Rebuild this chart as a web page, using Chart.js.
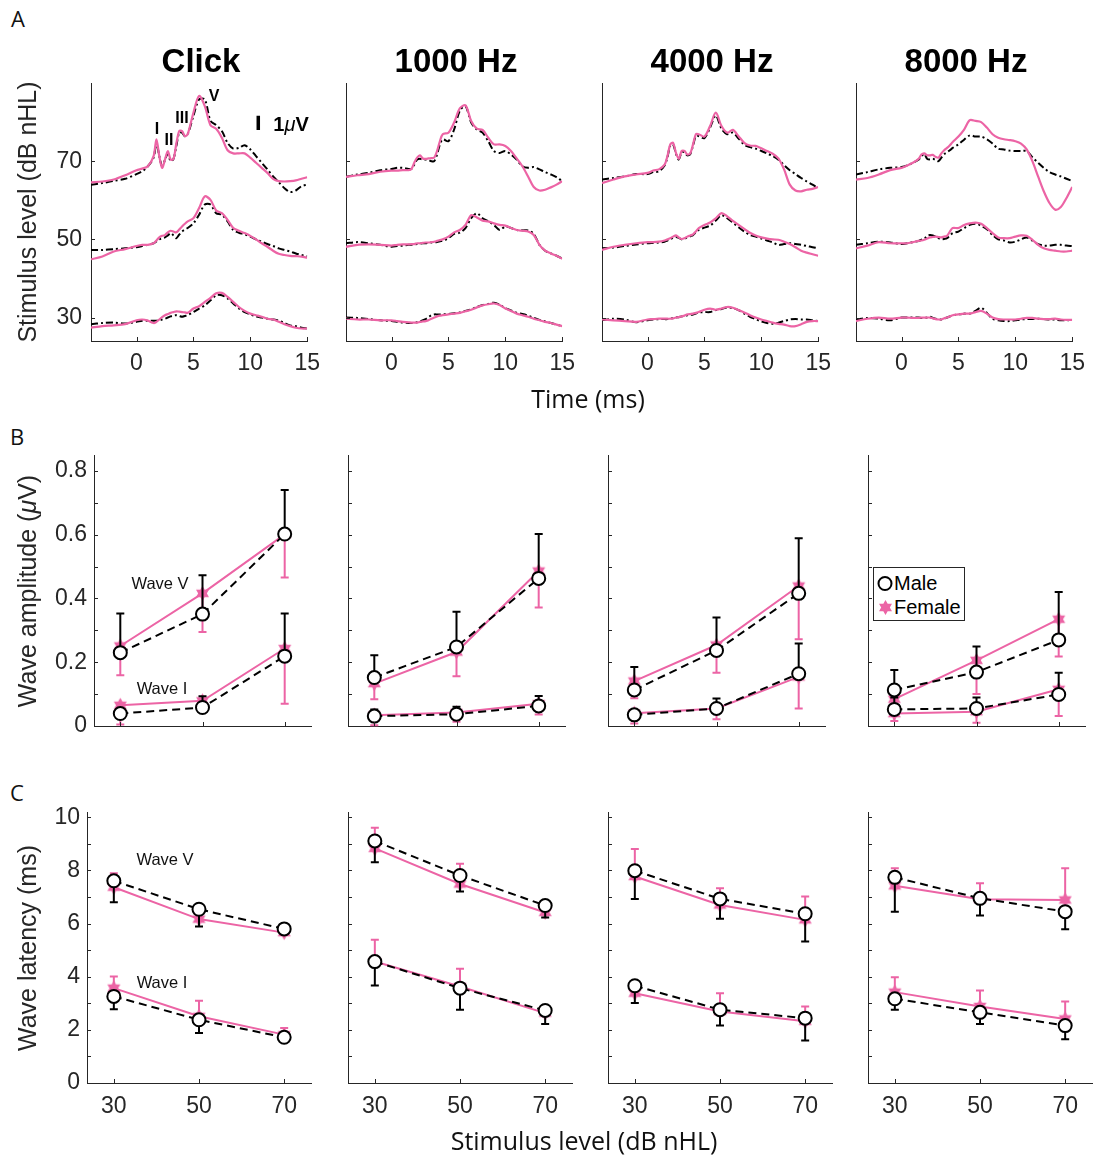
<!DOCTYPE html>
<html>
<head>
<meta charset="utf-8">
<script src="https://cdn.jsdelivr.net/npm/chart.js@4.4.1/dist/chart.umd.min.js"></script>
<style>
  html, body { margin: 0; padding: 0; background: #fff; }
  #fig { position: relative; width: 1100px; height: 1158px; overflow: hidden;
         font-family: 'Liberation Sans', Arial, Helvetica, sans-serif; color: #262626; }
  #fig canvas { position: absolute; }
  .txt { position: absolute; white-space: nowrap; line-height: 1; transform: translate(-50%, -50%); }
  .rot { transform: translate(-50%, -50%) rotate(-90deg); }
  .sans2 { font-family: 'Open Sans', sans-serif; color: #111; }
  .legend { position: absolute; border: 1px solid #262626; background: #fff; }
</style>
</head>
<body>
<div id="fig"></div>
<script>
  // ---- Row A: averaged waveforms, time grid (ms) and traces (plotted in stimulus-level units)
  const T = [-4, -3, -2, -1, 0, 0.5, 1, 1.5, 1.75, 2, 2.25, 2.5, 2.75, 3, 3.25, 3.5, 3.75, 4, 4.25, 4.5,
    5, 5.5, 6, 6.5, 7, 7.5, 8, 8.5, 9, 9.5, 10, 10.5, 11, 11.5, 12, 12.5, 13, 13.5, 14, 14.5, 15];

  const click70F = [64.6,64.8,65.3,66.4,67.7,68.1,68.7,71.3,75.6,71.3,68.3,70.4,72.6,70.4,70.6,74.5,77.7,77.7,76.4,76.9,82.4,86.7,84.1,79.2,78.3,76.0,72.8,72.0,72.0,72.0,70.9,69.6,68.3,67.0,65.5,64.9,64.8,64.9,65.1,65.5,65.9];
  const click70M = [64.0,64.4,65.0,65.5,66.7,67.4,68.7,70.9,74.7,71.3,68.7,70.3,72.0,70.0,70.6,73.9,77.3,77.3,76.4,76.9,81.6,85.8,85.8,80.3,79.2,77.7,74.7,73.2,73.4,74.1,73.0,71.3,69.6,67.9,66.1,64.6,63.1,62.1,62.5,63.6,64.0];
  const click50F = [44.9,45.6,46.9,47.5,48.3,48.6,48.6,49.0,49.7,50.5,50.9,51.1,51.8,52.2,52.0,51.8,52.5,53.3,54.0,54.6,55.4,58.0,61.0,60.1,57.4,56.7,55.0,52.9,52.2,51.6,50.9,50.0,49.0,48.1,47.1,46.3,46.0,45.8,45.7,45.6,45.3];
  const click50M = [47.3,47.3,47.5,47.7,48.0,48.3,48.6,49.0,49.5,50.0,50.3,50.5,51.0,51.6,51.0,50.3,51.2,52.0,52.5,52.9,54.1,56.3,58.9,58.9,56.7,56.3,54.6,52.4,51.7,51.3,50.7,50.0,49.4,48.8,48.3,47.7,47.3,46.9,46.4,46.0,45.7];
  const click30F = [27.4,27.8,28.0,28.3,29.3,29.5,29.2,28.6,28.9,29.5,30.1,30.6,30.9,31.2,31.4,31.6,31.5,31.4,31.3,31.2,32.3,32.9,34.0,35.0,36.2,36.3,35.3,34.0,32.7,31.7,31.0,30.6,30.2,29.7,29.5,28.9,28.3,27.8,27.4,27.2,27.2];
  const click30M = [28.3,28.6,28.7,28.5,28.9,29.2,29.2,29.2,29.2,29.3,29.5,29.7,30.0,30.3,30.5,30.6,30.4,30.2,30.4,30.6,31.4,32.3,33.1,34.4,35.7,35.7,34.9,33.6,32.3,31.4,30.8,30.3,30.0,29.7,29.5,29.2,28.6,28.0,27.8,27.4,27.2];

  const k1_70F = [66.0,66.4,66.7,67.3,67.6,67.6,67.7,67.7,68.0,69.6,70.9,71.5,70.7,70.6,70.7,70.8,70.9,72.6,75.1,76.9,77.3,79.9,83.5,84.3,80.3,78.3,78.0,76.0,74.3,74.3,73.9,72.6,70.7,68.7,66.1,63.4,62.5,62.7,63.3,64.0,64.9];
  const k1_70M = [66.0,66.6,67.0,67.7,68.0,68.3,68.3,68.0,68.0,69.1,70.4,70.6,70.4,70.4,70.3,70.0,70.0,71.7,74.3,75.6,75.1,78.1,82.9,84.1,79.9,78.1,77.3,75.1,72.6,72.1,72.6,71.7,70.4,68.7,68.3,68.5,67.9,67.2,66.6,65.9,64.9];
  const k1_50F = [48.1,48.6,48.7,48.6,48.4,48.6,48.7,48.7,48.8,48.8,49.0,49.0,49.1,49.2,49.2,49.3,49.4,49.6,49.8,50.0,50.7,51.8,52.4,53.7,56.2,55.6,54.8,54.6,54.1,53.7,53.5,52.9,52.4,52.2,52.0,51.1,48.6,47.1,46.4,45.8,45.0];
  const k1_50M = [49.0,49.3,49.0,48.6,48.1,48.3,48.4,48.6,48.6,48.7,48.8,48.9,49.0,49.0,49.1,49.2,49.2,49.3,49.5,49.7,50.3,51.4,51.7,52.9,55.4,56.7,55.4,54.6,53.7,52.4,53.3,52.9,52.4,52.3,52.3,51.4,48.6,47.1,46.4,45.8,45.1];
  const k1_30F = [29.7,29.5,29.5,29.3,29.3,29.1,28.9,28.8,28.7,28.7,28.7,28.9,29.0,29.1,29.3,29.7,30.0,30.3,30.5,30.6,30.8,31.0,31.2,31.6,32.0,32.6,33.1,33.4,33.6,33.2,32.3,31.7,31.0,30.6,30.2,29.7,29.3,28.9,28.6,28.2,27.8];
  const k1_30M = [30.0,29.9,29.6,29.3,29.1,28.9,28.7,28.6,28.6,28.7,28.8,29.0,29.3,29.6,30.1,30.6,30.8,30.8,30.8,30.8,30.9,31.1,31.3,31.7,32.1,32.7,33.2,33.5,33.8,33.3,32.4,31.8,31.2,30.9,30.5,29.9,29.4,29.0,28.6,28.2,27.8];

  const k4_70F = [64.4,65.3,66.1,66.6,67.0,67.6,67.9,69.1,71.3,74.3,74.7,72.1,70.6,72.6,72.6,71.7,72.0,74.3,76.9,76.9,76.3,79.0,82.4,79.0,77.3,78.0,76.4,74.7,74.0,73.9,73.3,72.6,71.9,70.7,67.9,64.0,62.5,62.3,62.7,62.9,63.4];
  const k4_70M = [65.3,65.7,66.1,66.7,66.7,67.2,67.4,68.9,71.0,74.0,74.3,71.9,70.4,72.3,72.3,71.5,71.8,74.0,76.4,76.4,75.9,78.6,81.7,78.3,76.9,77.3,75.8,74.2,73.6,73.2,72.6,72.0,71.3,70.4,69.0,67.7,66.7,65.7,64.8,64.0,63.1];
  const k4_50F = [47.3,48.1,48.6,49.0,49.3,49.3,49.4,49.7,50.0,50.3,50.7,51.0,50.5,50.1,50.3,50.7,51.0,51.3,52.0,52.9,53.7,54.3,55.4,56.7,55.9,54.7,53.7,52.7,51.7,51.0,50.5,50.2,50.0,49.9,49.4,48.8,48.0,47.1,46.6,46.2,45.8];
  const k4_50M = [47.7,47.9,48.3,48.7,49.0,49.1,49.2,49.4,49.7,50.0,50.4,50.6,50.4,50.0,50.2,50.5,50.8,51.1,51.8,52.4,53.0,53.5,54.8,56.2,55.4,54.3,53.1,52.0,51.1,50.7,50.2,49.7,49.2,48.6,48.8,49.0,48.8,48.6,48.3,48.0,47.7];
  const k4_30F = [29.5,29.3,29.1,28.9,29.5,29.6,29.7,29.7,29.7,29.7,29.8,30.0,30.1,30.3,30.5,30.8,30.9,31.0,31.2,31.4,32.0,32.3,32.0,32.3,32.7,32.5,31.9,31.3,30.6,30.0,29.5,29.1,28.7,28.4,28.2,27.8,27.8,28.3,28.9,29.1,29.1];
  const k4_30M = [29.3,29.7,29.5,28.8,29.3,29.5,29.6,29.6,29.6,29.8,29.8,30.0,30.1,30.3,30.4,30.6,30.7,30.8,31.0,31.3,31.4,31.4,31.9,32.2,32.6,32.4,31.9,31.0,30.2,29.6,29.0,28.6,28.4,28.7,29.1,29.5,29.6,29.5,29.5,29.3,29.1];

  const k8_70F = [65.3,65.7,66.6,67.7,68.3,68.9,69.6,70.6,71.7,72.0,71.5,71.5,71.6,71.1,70.9,72.0,72.8,73.4,74.1,74.9,76.3,78.1,80.5,80.3,80.0,78.6,76.9,76.0,75.6,75.4,75.1,74.5,73.0,70.0,66.1,62.3,59.3,57.6,58.3,60.6,63.4];
  const k8_70M = [66.6,67.2,67.9,68.3,68.5,68.9,69.6,70.4,71.3,71.9,70.6,70.4,70.6,70.3,70.0,70.9,71.8,72.3,72.8,73.4,74.3,75.5,76.6,76.3,76.3,75.6,74.5,73.2,73.0,72.7,72.6,72.6,72.6,71.0,69.6,68.3,67.2,66.6,66.1,65.5,64.9];
  const k8_50F = [47.7,48.4,49.3,49.0,49.0,49.0,49.3,49.6,49.7,49.9,50.2,50.5,50.6,50.7,50.6,50.5,50.7,50.9,52.0,52.9,52.9,53.7,54.1,54.3,54.0,52.9,51.6,50.5,50.3,50.3,50.7,51.0,50.9,49.9,48.6,47.7,47.3,47.1,46.9,46.9,47.1];
  const k8_50M = [48.6,49.0,49.4,49.2,48.8,49.0,49.3,49.6,49.9,50.1,50.9,51.1,51.0,50.7,50.3,50.0,50.1,50.3,51.0,51.6,52.0,52.9,53.7,54.0,53.5,52.6,51.1,50.0,49.7,49.2,49.4,50.0,50.5,49.7,48.8,48.4,48.4,48.6,48.6,48.4,48.3];
  const k8_30F = [29.1,29.7,30.0,29.7,30.0,30.0,29.9,29.9,30.0,30.0,30.0,30.0,29.8,29.6,29.5,29.5,29.8,30.0,30.3,30.6,30.8,31.0,31.0,31.4,31.7,31.0,30.0,29.6,29.5,29.5,29.5,29.7,29.9,29.9,29.7,29.6,29.6,29.7,29.5,29.4,29.4];
  const k8_30M = [29.5,29.9,29.7,29.3,30.0,30.0,30.0,30.0,29.9,29.9,30.0,30.2,29.9,29.7,29.5,29.5,29.8,30.0,30.3,30.6,30.8,31.0,31.0,31.7,32.5,31.2,29.7,29.3,29.1,29.1,29.3,29.5,29.6,29.6,29.7,29.6,29.5,29.5,29.3,29.3,29.5];

  const stimuli = ['Click', '1000 Hz', '4000 Hz', '8000 Hz'];
  const femaleTraces = [[click30F, click50F, click70F], [k1_30F, k1_50F, k1_70F], [k4_30F, k4_50F, k4_70F], [k8_30F, k8_50F, k8_70F]];
  const maleTraces = [[click30M, click50M, click70M], [k1_30M, k1_50M, k1_70M], [k4_30M, k4_50M, k4_70M], [k8_30M, k8_50M, k8_70M]];
  const timeTicks = [0, 5, 10, 15];
  const levelTicks = [30, 50, 70];
  const scaleBarT = 10.7;          // ms
  const scaleBarY = [78.0, 81.6];  // 1 µV in plot units

  // ---- Rows B and C: one row per stimulus (Click, 1000, 4000, 8000 Hz), values at 30/50/70 dB nHL
  const levels = [30, 50, 70];
  const ampVMale      = [[0.23, 0.351, 0.602], [0.152, 0.248, 0.463], [0.113, 0.237, 0.416], [0.113, 0.169, 0.27]];
  const ampVMaleBar   = [[0.353, 0.473, 0.74], [0.222, 0.358, 0.602], [0.185, 0.34, 0.589], [0.176, 0.249, 0.42]];
  const ampVFemale    = [[0.251, 0.416, 0.601], [0.133, 0.232, 0.486], [0.141, 0.254, 0.439], [0.084, 0.206, 0.335]];
  const ampVFemaleBar = [[0.159, 0.295, 0.466], [0.084, 0.156, 0.372], [0.087, 0.167, 0.272], [0.047, 0.10, 0.218]];
  const ampIMale      = [[0.039, 0.058, 0.219], [0.031, 0.037, 0.063], [0.035, 0.055, 0.164], [0.052, 0.055, 0.099]];
  const ampIMaleBar   = [[0.05, 0.093, 0.353], [0.052, 0.06, 0.094], [0.04, 0.086, 0.259], [0.089, 0.089, 0.167]];
  const ampIFemale    = [[0.065, 0.079, 0.243], [0.034, 0.042, 0.07], [0.04, 0.055, 0.154], [0.039, 0.045, 0.115]];
  const ampIFemaleBar = [[0.005, 0.06, 0.07], [0.002, 0.013, 0.036], [0.008, 0.021, 0.055], [0.016, 0.01, 0.031]];

  const latVMale      = [[7.61, 6.54, 5.8], [9.11, 7.81, 6.68], [7.99, 6.93, 6.37], [7.74, 6.95, 6.45]];
  const latVMaleBar   = [[6.8, 5.89, 5.7], [8.31, 7.21, 6.23], [6.93, 6.18, 5.33], [6.45, 6.3, 5.79]];
  const latVFemale    = [[7.37, 6.17, 5.66], [8.83, 7.49, 6.42], [7.77, 6.7, 6.14], [7.42, 6.92, 6.89]];
  const latVFemaleBar = [[7.89, 6.45, 5.75], [9.61, 8.25, 6.6], [8.81, 7.33, 7.02], [8.08, 7.52, 8.08]];
  const latIMale      = [[3.26, 2.38, 1.72], [4.57, 3.57, 2.73], [3.66, 2.76, 2.44], [3.17, 2.66, 2.16]];
  const latIMaleBar   = [[2.78, 1.88, 1.55], [3.67, 2.76, 2.22], [3.01, 2.16, 1.6], [2.76, 2.22, 1.65]];
  const latIFemale    = [[3.57, 2.51, 1.82], [4.57, 3.63, 2.63], [3.38, 2.69, 2.32], [3.42, 2.88, 2.41]];
  const latIFemaleBar = [[4.01, 3.1, 2.07], [5.39, 4.3, 2.9], [3.5, 3.38, 2.88], [3.98, 3.48, 3.07]];

  const ampTicks = [0, 0.1, 0.2, 0.3, 0.4, 0.5, 0.6, 0.7, 0.8];
  const latTicks = [0, 1, 2, 3, 4, 5, 6, 7, 8, 9, 10];

  // ---- styling / geometry
  const fig = document.getElementById('fig');
  const FONT = "'Liberation Sans', Arial, Helvetica, sans-serif";
  const INK = '#262626';
  const PINK = '#ec64a5';
  const rowA = { top: 83, h: 258, w: 220, lefts: [91, 346, 602, 856] };
  const rowB = { top: 455, h: 271, w: 217, lefts: [94, 348, 608, 868] };
  const rowC = { top: 812, h: 271, w: 224, lefts: [87, 348, 608, 868] };

  function starImage(r, color) {
    const c = document.createElement('canvas');
    const s = Math.ceil(r * 2 + 2);
    c.width = c.height = s;
    const g = c.getContext('2d');
    g.fillStyle = color;
    g.beginPath();
    for (let k = 0; k < 12; k++) {
      const a = -Math.PI / 2 + k * Math.PI / 6;
      const rr = k % 2 ? r / Math.sqrt(3) : r;
      const px = s / 2 + rr * Math.cos(a), py = s / 2 + rr * Math.sin(a);
      k ? g.lineTo(px, py) : g.moveTo(px, py);
    }
    g.closePath();
    g.fill();
    return c;
  }
  const STAR = starImage(7.5, PINK);

  // inward tick marks, like the original axes
  const inTicks = {
    id: 'inTicks',
    afterDraw(chart) {
      const { ctx, chartArea: a, scales: { x, y } } = chart;
      ctx.save();
      ctx.strokeStyle = INK;
      ctx.lineWidth = 1;
      ctx.beginPath();
      x.ticks.forEach(t => {
        const px = Math.round(x.getPixelForValue(t.value)) + 0.5;
        ctx.moveTo(px, a.bottom);
        ctx.lineTo(px, a.bottom - 4);
      });
      y.ticks.forEach(t => {
        const py = Math.round(y.getPixelForValue(t.value)) + 0.5;
        ctx.moveTo(a.left, py);
        ctx.lineTo(a.left + 4, py);
      });
      ctx.stroke();
      ctx.restore();
    }
  };

  // one-sided error bars: from the mean to the value in ds.errTo
  const errBars = {
    id: 'errBars',
    beforeDatasetDraw(chart, args) {
      const ds = chart.data.datasets[args.index];
      if (!ds.errTo) return;
      const { ctx, scales: { x, y } } = chart;
      ctx.save();
      ctx.strokeStyle = ds.borderColor;
      ctx.lineWidth = 2;
      ctx.setLineDash([]);
      ds.data.forEach((p, i) => {
        const px = x.getPixelForValue(p.x);
        const p0 = y.getPixelForValue(p.y);
        const p1 = y.getPixelForValue(ds.errTo[i]);
        ctx.beginPath();
        ctx.moveTo(px, p0);
        ctx.lineTo(px, p1);
        ctx.moveTo(px - 4, p1);
        ctx.lineTo(px + 4, p1);
        ctx.stroke();
      });
      ctx.restore();
    }
  };

  function axis(min, max, ticks, label, pad) {
    return {
      type: 'linear', min, max, bounds: 'data',
      afterBuildTicks: s => { s.ticks = ticks.map(v => ({ value: v })); },
      grid: { display: true, drawOnChartArea: false, drawTicks: false },
      border: { display: true, color: INK, width: 1 },
      ticks: {
        display: !!label, autoSkip: false, maxRotation: 0, minRotation: 0, padding: pad,
        color: INK, font: { family: FONT, size: 23 },
        callback: label || (() => '')
      }
    };
  }

  function makeChart(row, i, datasets, xAxis, yAxis) {
    const padT = 32, padR = 18, yW = 62, xH = 46;
    const left = row.lefts[i];
    const W = row.w + yW + padR, H = row.h + padT + xH;
    const cv = document.createElement('canvas');
    cv.width = W; cv.height = H;
    cv.style.left = (left - yW) + 'px';
    cv.style.top = (row.top - padT) + 'px';
    cv.style.width = W + 'px';
    cv.style.height = H + 'px';
    fig.appendChild(cv);
    xAxis.afterFit = s => { s.height = xH; };
    yAxis.afterFit = s => { s.width = yW; };
    return new Chart(cv, {
      type: 'line',
      data: { datasets },
      options: {
        responsive: false, animation: false, devicePixelRatio: 1,
        layout: { padding: { top: padT, right: padR, left: 0, bottom: 0 } },
        plugins: { legend: { display: false }, tooltip: { enabled: false } },
        scales: { x: xAxis, y: yAxis }
      },
      plugins: [errBars, inTicks]
    });
  }

  const pts = (xs, ys) => xs.map((v, k) => ({ x: v, y: ys[k] }));

  // ---- Row A
  stimuli.forEach((name, i) => {
    const ds = [];
    maleTraces[i].forEach(tr => ds.push({
      data: pts(T, tr), borderColor: '#000', borderWidth: 2, borderDash: [7, 3, 2, 3],
      pointRadius: 0, tension: 0.3, order: 2
    }));
    femaleTraces[i].forEach(tr => ds.push({
      data: pts(T, tr), borderColor: PINK, borderWidth: 2.2,
      pointRadius: 0, tension: 0.3, order: 1
    }));
    if (i === 0) ds.push({
      data: pts([scaleBarT, scaleBarT], scaleBarY), borderColor: '#000', borderWidth: 3.5,
      pointRadius: 0, order: 0
    });
    makeChart(rowA, i, ds,
      axis(-4, 15, timeTicks, v => String(v), 9),
      axis(24, 90, levelTicks, i === 0 ? (v => String(v)) : null, 9));
  });

  // ---- Rows B and C
  function groupSets(i, vM, vMb, vF, vFb, iM, iMb, iF, iFb) {
    const male = (vals, bars, order) => ({
      data: pts(levels, vals[i]), errTo: bars[i], borderColor: '#000', borderWidth: 2, borderDash: [8, 5],
      pointStyle: 'circle', pointRadius: 6.5, pointBorderWidth: 2, pointBackgroundColor: '#fff',
      pointBorderColor: '#000', tension: 0, clip: false, order
    });
    const female = (vals, bars, order) => ({
      data: pts(levels, vals[i]), errTo: bars[i], borderColor: PINK, borderWidth: 2,
      pointStyle: STAR, pointRadius: 7, tension: 0, clip: false, order
    });
    return [male(vM, vMb, 0), male(iM, iMb, 1), female(vF, vFb, 2), female(iF, iFb, 3)];
  }

  stimuli.forEach((name, i) => {
    makeChart(rowB, i,
      groupSets(i, ampVMale, ampVMaleBar, ampVFemale, ampVFemaleBar, ampIMale, ampIMaleBar, ampIFemale, ampIFemaleBar),
      axis(23.6, 76.4, levels, null, 9),
      axis(0, 0.85, ampTicks, i === 0 ? (v => (Math.round(v * 10) % 2 === 0 ? String(Math.round(v * 10) / 10) : '')) : null, 7));
    makeChart(rowC, i,
      groupSets(i, latVMale, latVMaleBar, latVFemale, latVFemaleBar, latIMale, latIMaleBar, latIFemale, latIFemaleBar),
      axis(23.7, 76.3, levels, v => String(v), 10),
      axis(0, 10.2, latTicks, i === 0 ? (v => (v % 2 === 0 ? String(v) : '')) : null, 7));
  });

  // ---- text
  function text(html, x, y, css, cls) {
    const d = document.createElement('div');
    d.className = 'txt' + (cls ? ' ' + cls : '');
    d.innerHTML = html;
    d.style.left = x + 'px';
    d.style.top = y + 'px';
    if (css) d.style.cssText += css;
    fig.appendChild(d);
    return d;
  }

  text('A', 18, 18, 'font-size:22px;', 'sans2');
  text('B', 17, 436, 'font-size:22px;', 'sans2');
  text('C', 17, 792, 'font-size:22px;', 'sans2');

  stimuli.forEach((name, i) => {
    text(name, rowA.lefts[i] + rowA.w / 2, 60, 'font-size:33px;font-weight:bold;color:#000;');
  });

  text('Stimulus level (dB nHL)', 27, 212, 'font-size:25px;', 'rot');
  text('Wave amplitude (<i>&mu;</i>V)', 27, 591, 'font-size:25px;', 'rot');
  text('Wave latency (ms)', 27, 948, 'font-size:25px;', 'rot');
  text('Time (ms)', 588, 398, 'font-size:25px;', 'sans2');
  text('Stimulus level (dB nHL)', 584, 1140, 'font-size:25px;', 'sans2');

  // wave labels in the click waveform panel
  const bold = 'font-size:16px;font-weight:bold;color:#000;';
  text('I', 157, 129, bold);
  text('II', 169, 140, bold);
  text('III', 182, 118, bold);
  text('V', 214, 96, bold);
  text('1<i style="font-weight:normal">&mu;</i>V', 291, 124, 'font-size:20px;font-weight:bold;color:#000;');

  const small = 'font-size:16.5px;color:#111;';
  text('Wave V', 160, 583, small);
  text('Wave I', 162, 688, small);
  text('Wave V', 165, 859, small);
  text('Wave I', 162, 982, small);

  // legend (8000 Hz amplitude panel)
  const lg = document.createElement('div');
  lg.className = 'legend';
  lg.style.cssText = 'left:873px;top:567px;width:90px;height:52px;';
  lg.innerHTML =
    '<svg width="20" height="52" style="position:absolute;left:2px;top:0">' +
    '<circle cx="9" cy="15.5" r="6.5" fill="#fff" stroke="#000" stroke-width="2"/></svg>' +
    '<div style="position:absolute;left:20px;top:5px;font-size:20px;line-height:1;color:#000">Male</div>' +
    '<div style="position:absolute;left:20px;top:29px;font-size:20px;line-height:1;color:#000">Female</div>';
  fig.appendChild(lg);
  const st = STAR.cloneNode();
  st.getContext('2d').drawImage(STAR, 0, 0);
  st.style.cssText = 'position:absolute;left:3px;top:31px;';
  lg.appendChild(st);
</script>
</body>
</html>
